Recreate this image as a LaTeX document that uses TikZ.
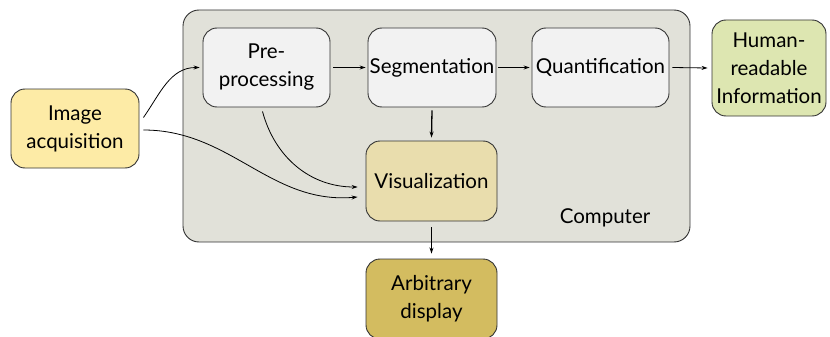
\documentclass[tikz,border=0pt]{standalone}
\usepackage{fontspec}
\setmainfont{Lato}
\usetikzlibrary{arrows.meta}
\definecolor{compfill}{HTML}{E1E1D9}
\definecolor{boxfill}{HTML}{F2F2F2}
\definecolor{acqfill}{HTML}{FDEBA6}
\definecolor{humfill}{HTML}{DDE6B1}
\definecolor{visfill}{HTML}{E9DDAD}
\definecolor{dispfill}{HTML}{D3BC60}
\definecolor{edge}{HTML}{333333}
\begin{document}
\begin{tikzpicture}[x=1pt,y=-1pt,
  lbl/.style={font=\fontsize{20.5}{28}\selectfont},
  blk/.style={draw=edge,line width=0.9pt,rounded corners=14pt,align=center,
    lbl,inner sep=0pt},
  conn/.style={-{Stealth[length=6pt,width=4pt]},line width=0.8pt,black},
  thick conn/.style={conn,line width=1.3pt}]
\clip (0,0) rectangle (830,337);
\useasboundingbox (0,0) rectangle (830,337);
\node[draw=edge,line width=0.9pt,rounded corners=16pt,fill=compfill,
  minimum width=507pt,minimum height=232pt] (comp) at (436.5,126) {};
\node[lbl] (complbl) at (605,218) {Computer};
\node[blk,fill=acqfill,minimum width=128pt,minimum height=79pt] (acq) at (75,128.5) {Image\\acquisition};
\node[blk,fill=boxfill,minimum width=127pt,minimum height=79pt] (pre) at (266.5,67.5) {Pre-\\processing};
\node[blk,fill=boxfill,minimum width=128pt,minimum height=79pt] (seg) at (432,67.5) {Segmentation};
\node[blk,fill=boxfill,minimum width=137pt,minimum height=79pt] (quant) at (600.5,67.5) {Quantification};
\node[blk,fill=humfill,minimum width=114pt,minimum height=96pt] (hum) at (769,68) {Human-\\readable\\Information};
\node[blk,fill=visfill,minimum width=131pt,minimum height=80pt] (vis) at (431.5,181) {Visualization};
\node[blk,fill=dispfill,minimum width=131pt,minimum height=80pt] (disp) at (431.5,299) {Arbitrary\\display};
\draw[conn] ([shift={(4pt,11pt)}]acq.east) to[out=55,in=180] ([xshift=-3pt]pre.west);
\draw[conn] ([shift={(4pt,-1.5pt)}]acq.east) to[out=0,in=185] ([shift={(-8pt,-16pt)}]vis.west);
\draw[conn] ([shift={(-4pt,-4pt)}]pre.south) to[out=-75,in=180] ([shift={(-8pt,-6pt)}]vis.west);
\draw[conn] ([xshift=3pt]pre.east) -- ([xshift=-2pt]seg.west);
\draw[conn] ([xshift=2pt]seg.east) -- ([xshift=-2pt]quant.west);
\draw[conn] ([xshift=3pt]quant.east) -- ([xshift=-4pt]hum.west);
\draw[thick conn] ([yshift=-3pt]seg.south) -- ([yshift=3pt]vis.north);
\draw[thick conn] ([yshift=-6pt]vis.south) -- ([yshift=5pt]disp.north);
\end{tikzpicture}
\end{document}
